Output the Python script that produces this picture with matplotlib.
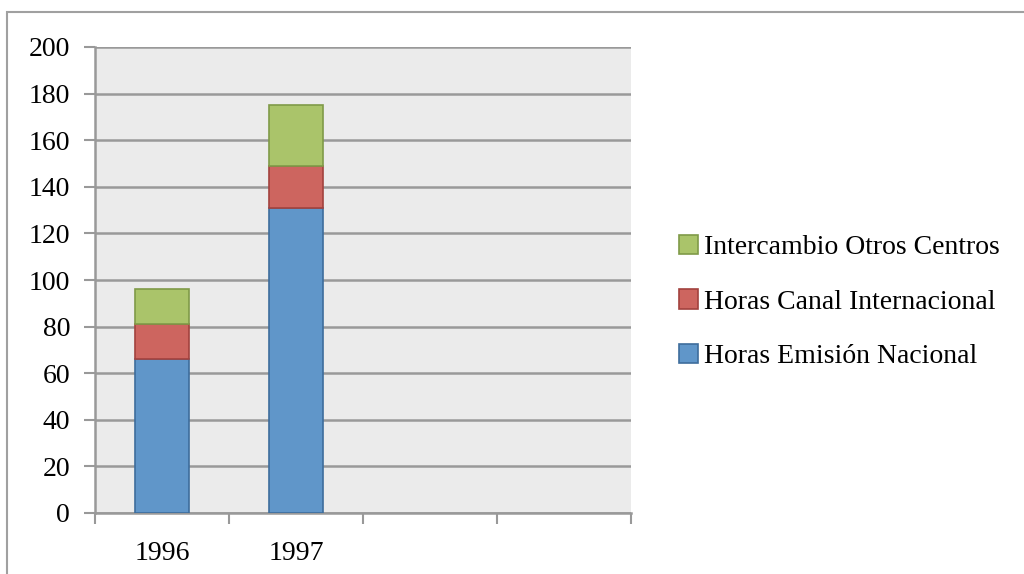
import numpy as np
import matplotlib.pyplot as plt
from matplotlib.patches import Rectangle

# Data (last two category slots are empty)
categories = ['1996', '1997', '', '']
emision_nacional = [66, 131, None, None]
canal_internacional = [15, 18, None, None]
otros_centros = [15, 26, None, None]
series_names = ['Horas Emisión Nacional', 'Horas Canal Internacional',
                'Intercambio Otros Centros']

plt.rcParams['font.family'] = ['Liberation Serif', 'DejaVu Serif']

fig = plt.figure(figsize=(10.24, 5.74), dpi=100)
ax = fig.add_axes([95 / 1024, 1 - 513 / 574, 536 / 1024, 466 / 574])

# outer chart border
fig.patches.append(Rectangle((7 / 1024, -0.05), 1.0, 1.05 - 12 / 574, transform=fig.transFigure,
                             fill=False, edgecolor='#a0a0a0', linewidth=1.5))

ax.set_facecolor('#ebebeb')
x = np.arange(len(categories))
width = 0.41
fills = ['#6096c9', '#cd655f', '#aac46a']
edges = ['#3e6d9c', '#a2423e', '#7f9a48']

bottom = np.zeros(len(categories))
handles = []
for vals, name, fc, ec in zip([emision_nacional, canal_internacional, otros_centros],
                              series_names, fills, edges):
    vals = np.array([np.nan if v is None else v for v in vals], dtype=float)
    b = ax.bar(x, vals, width, bottom=bottom, color=fc, edgecolor=ec,
               linewidth=1.2, label=name, zorder=3)
    handles.append(b)
    bottom += np.nan_to_num(vals)

ax.set_xlim(-0.5, len(categories) - 0.5)
ax.set_ylim(0, 200)
ax.set_yticks(range(0, 201, 20))
ax.yaxis.grid(True, color='#999999', linewidth=1.8, zorder=1)
ax.set_axisbelow(True)

ax.set_xticks(np.arange(-0.5, len(categories), 1))
ax.set_xticklabels([])
ax.set_xticks(x, minor=True)
ax.set_xticklabels(categories, minor=True)
ax.tick_params(axis='x', which='minor', length=0, pad=20, labelsize=20)
ax.tick_params(axis='x', which='major', length=8, width=1.5, color='#999999',
               direction='out')
ax.tick_params(axis='y', length=8, width=1.5, color='#999999', labelsize=20, pad=10)

for side in ['top', 'right']:
    ax.spines[side].set_visible(False)
for side in ['left', 'bottom']:
    ax.spines[side].set_color('#999999')
    ax.spines[side].set_linewidth(1.8)

leg = ax.legend(handles[::-1], series_names[::-1], loc='center left',
                bbox_to_anchor=(1.043, 0.453), frameon=False, fontsize=20,
                handlelength=0.7, handleheight=0.7, handletextpad=0.2,
                labelspacing=1.05)

fig.savefig('out.png', dpi=100)
